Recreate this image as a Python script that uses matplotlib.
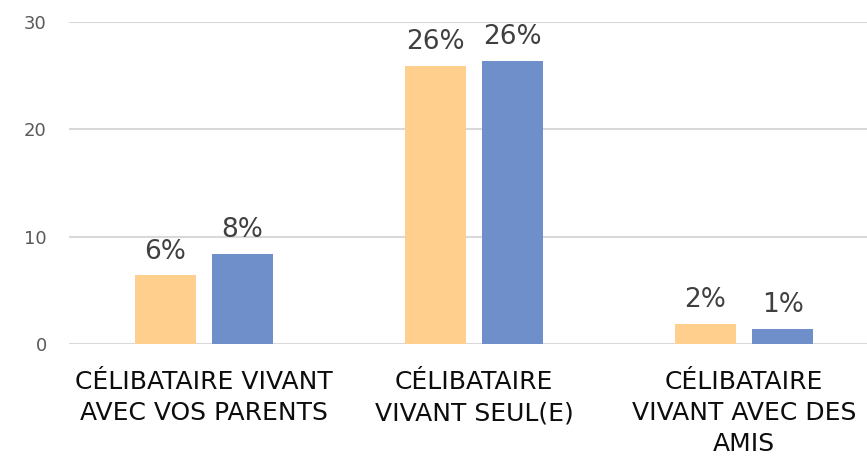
import numpy as np
import matplotlib.pyplot as plt

categories = ['CÉLIBATAIRE VIVANT\nAVEC VOS PARENTS',
              'CÉLIBATAIRE\nVIVANT SEUL(E)',
              'CÉLIBATAIRE\nVIVANT AVEC DES\nAMIS']
serie_a = [6.4, 25.9, 1.9]
serie_b = [8.4, 26.4, 1.4]
labels_a = ['6%', '26%', '2%']
labels_b = ['8%', '26%', '1%']
y_ticks = [0, 10, 20, 30]

col_a = '#FFD08D'
col_b = '#6F8FCA'

fig = plt.figure(figsize=(8.67, 4.58), dpi=100)
ax = fig.add_axes([69 / 867, 114 / 458, 810 / 867, 322 / 458])

x = np.arange(len(categories))
w = 0.226
off = 0.143
bars_a = ax.bar(x - off, serie_a, w, color=col_a, zorder=3)
bars_b = ax.bar(x + off, serie_b, w, color=col_b, zorder=3)

for bars, labs in ((bars_a, labels_a), (bars_b, labels_b)):
	for b, t in zip(bars, labs):
		ax.annotate(t, (b.get_x() + b.get_width() / 2, b.get_height()),
		            xytext=(0, 12), textcoords='offset points',
		            ha='center', va='baseline', fontsize=19, color='#404040')

ax.set_xlim(-0.5, 2.5)
ax.set_ylim(0, 30)
ax.set_yticks(y_ticks)
ax.set_xticks(x)
ax.set_xticklabels(categories, fontsize=18, color='#0D0D0D', linespacing=1.35)
ax.tick_params(axis='y', labelsize=13, labelcolor='#595959', length=0, pad=16)
ax.tick_params(axis='x', length=0, pad=19)
ax.grid(axis='y', color='#D9D9D9', linewidth=1.5, zorder=0)
for s in ax.spines.values():
	s.set_visible(False)

fig.savefig('out.png', dpi=100)
